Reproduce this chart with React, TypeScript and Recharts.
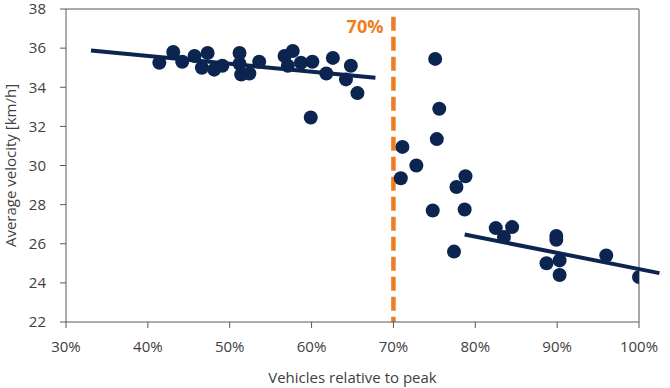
import { ScatterChart, Scatter, XAxis, YAxis, ReferenceLine } from 'recharts'

// share of peak vehicles (%) and average velocity (km/h)
const belowX = [41.4, 43.1, 44.2, 45.7, 46.6, 47.3, 48.1, 49.1, 51.2, 51.4, 51.2, 52.4, 53.6, 56.7, 57.7, 57.1, 58.7, 60.1, 59.9, 61.8, 62.6, 64.2, 64.8, 65.6]
const belowY = [35.25, 35.8, 35.3, 35.6, 35.0, 35.75, 34.9, 35.1, 35.75, 34.65, 35.2, 34.7, 35.3, 35.6, 35.85, 35.1, 35.25, 35.3, 32.45, 34.7, 35.5, 34.4, 35.1, 33.7]
const aboveX = [75.1, 75.6, 75.3, 71.1, 72.8, 70.9, 78.8, 77.7, 78.7, 74.8, 77.4, 82.5, 84.5, 83.5, 89.9, 89.9, 88.7, 90.3, 90.3, 96.0, 100.0]
const aboveY = [35.45, 32.9, 31.35, 30.95, 30.0, 29.35, 29.45, 28.9, 27.75, 27.7, 25.6, 26.8, 26.85, 26.35, 26.4, 26.2, 25.0, 25.15, 24.4, 25.4, 24.3]

const trendBelow = [{ x: 33.05, y: 35.88 }, { x: 67.8, y: 34.48 }]
const trendAbove = [{ x: 78.7, y: 26.47 }, { x: 102.5, y: 24.5 }]
const threshold = 70
const xTicks = [30, 40, 50, 60, 70, 80, 90, 100]
const yTicks = [22, 24, 26, 28, 30, 32, 34, 36, 38]

const points = [
    ...belowX.map((x, i) => ({ x, y: belowY[i] })),
    ...aboveX.map((x, i) => ({ x, y: aboveY[i] })),
]

const navy = '#0c2550'
const orange = '#ee7d22'
const font = '"Open Sans", sans-serif'
const tickStyle = { fontSize: 15, fill: '#404040', fontFamily: font }

const Dot = (props: any) => <circle cx={props.cx} cy={props.cy} r={7} fill={navy} />

export default function App() {
    return (
        <div style={{ position: 'absolute', left: 0, top: 0, background: '#fff' }}>
            <ScatterChart width={670} height={388} margin={{ top: 9, right: 31, left: 0, bottom: 0 }}>
                <XAxis
                    type="number"
                    dataKey="x"
                    domain={[30, 100]}
                    ticks={xTicks}
                    allowDataOverflow
                    tickFormatter={(v) => `${v}%`}
                    height={66}
                    tick={tickStyle}
                    tickSize={6}
                    tickMargin={13}
                    stroke="#595959"
                    label={{ value: 'Vehicles relative to peak', position: 'insideBottom', offset: 5, style: { fontSize: 15, fill: '#404040', fontFamily: font } }}
                />
                <YAxis
                    type="number"
                    dataKey="y"
                    domain={[22, 38]}
                    ticks={yTicks}
                    allowDataOverflow
                    width={66}
                    tick={tickStyle}
                    tickSize={6}
                    tickMargin={14}
                    stroke="#595959"
                    label={{
                        content: ({ viewBox }: any) => {
                            const cy = viewBox.y + viewBox.height / 2
                            return (
                                <text x={10} y={cy} transform={`rotate(-90, 10, ${cy})`} textAnchor="middle" dominantBaseline="central"
                                    fontSize={15} fill="#404040" fontFamily={font}>
                                    Average velocity [km/h]
                                </text>
                            )
                        },
                    }}
                />
                <ReferenceLine y={38} stroke="#8c8c8c" strokeWidth={1.5} />
                <ReferenceLine x={100} stroke="#8c8c8c" strokeWidth={1.5} />
                <ReferenceLine
                    segment={[{ x: threshold, y: 37.6 }, { x: threshold, y: 22 }]}
                    stroke={orange}
                    strokeWidth={4.5}
                    strokeDasharray="14 6"
                    label={{
                        content: ({ viewBox }: any) => (
                            <text x={viewBox.x - 10} y={viewBox.y + 16} textAnchor="end" fontSize={18} fontWeight="bold" fill={orange} fontFamily={font}>
                                70%
                            </text>
                        ),
                    }}
                />
                <Scatter data={points} shape={<Dot />} isAnimationActive={false} />
                <ReferenceLine segment={trendBelow} stroke={navy} strokeWidth={4} ifOverflow="visible" />
                <ReferenceLine segment={trendAbove} stroke={navy} strokeWidth={4} ifOverflow="visible" />
            </ScatterChart>
        </div>
    )
}
